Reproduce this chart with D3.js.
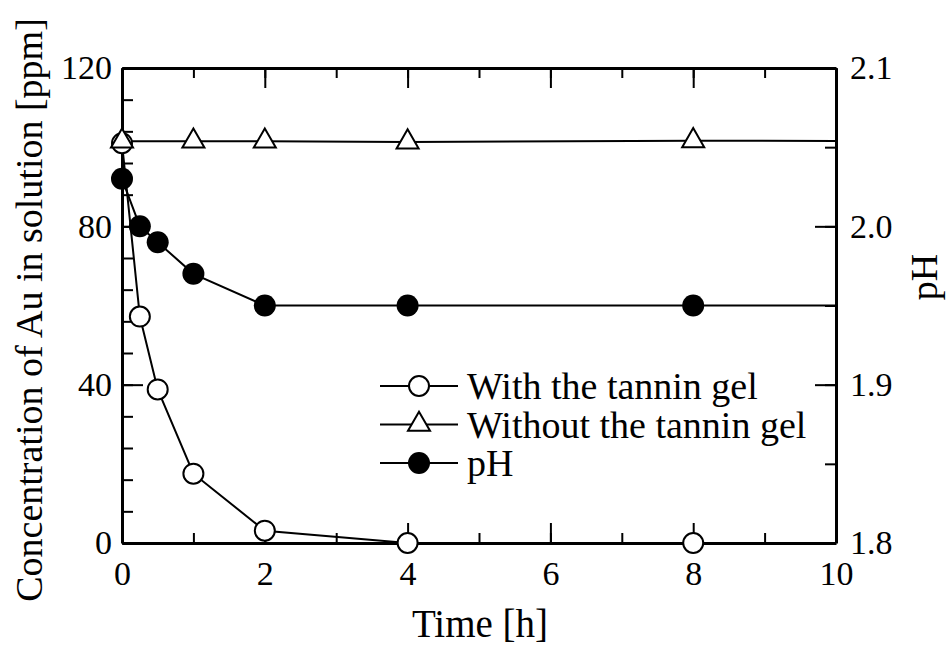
<!DOCTYPE html>
<html lang="en">
<head>
<meta charset="utf-8">
<script src="https://cdn.jsdelivr.net/npm/d3@7"></script>
<style>
  body { margin: 0; background: #fff; }
  text { font-family: "Liberation Serif", "Times New Roman", serif; fill: #000; }
  .axis .domain { stroke: #000; stroke-width: 3px; }
  .axis .tick line { stroke: #000; stroke-width: 2px; }
  .axis text { font-size: 34px; font-family: "Liberation Serif", serif; }
  .series { fill: none; stroke: #000; stroke-width: 2px; }
</style>
</head>
<body>
<div id="chart"></div>
<script>
// Au concentration (left axis, ppm) and pH (right axis) over time
// the 24 h readings sit past the axis end and only carry the lines to the frame
var timeWith = [0, 0.25, 0.5, 1, 2, 4, 8, 24];
var auWith = [101, 57.2, 38.8, 17.5, 3.1, 0, 0, 0];

var timeWithout = [0, 1, 2, 4, 8, 24];
var auWithout = [101.5, 101.5, 101.5, 101.3, 101.6, 101.5];

var timePH = [0, 0.25, 0.5, 1, 2, 4, 8, 24];
var phValues = [2.03, 2.00, 1.99, 1.97, 1.95, 1.95, 1.95, 1.95];

var xTicks = [0, 2, 4, 6, 8, 10];
var auTicks = [0, 40, 80, 120];
var phTicks = [1.8, 1.9, 2.0, 2.1];

var legendNames = ["With the tannin gel", "Without the tannin gel", "pH"];

var width = 949, height = 651;
var margin = {top: 68, right: 113, bottom: 108, left: 122};
var w = width - margin.left - margin.right,
    h = height - margin.top - margin.bottom;

var svg = d3.select("#chart").append("svg")
    .attr("width", width)
    .attr("height", height);

var g = svg.append("g")
    .attr("transform", "translate(" + margin.left + "," + margin.top + ")");

var x = d3.scaleLinear().domain([0, 10]).range([0, w]);
var yAu = d3.scaleLinear().domain([0, 120]).range([h, 0]);
var yPH = d3.scaleLinear().domain([1.8, 2.1]).range([h, 0]);

g.append("clipPath").attr("id", "plotClip")
  .append("rect").attr("width", w).attr("height", h);

// minor ticks first, then the labelled axes on top
function minor(axis, values, transform) {
  g.append("g").attr("class", "axis minor")
    .attr("transform", transform || null)
    .call(axis.tickValues(values).tickFormat("").tickSizeOuter(0))
    .select(".domain").remove();
}
minor(d3.axisBottom(x).tickSize(-10), d3.range(0, 11, 1), "translate(0," + h + ")");
minor(d3.axisTop(x).tickSize(-10), d3.range(0, 11, 1));
minor(d3.axisLeft(yAu).tickSize(-11), d3.range(0, 121, 8));
minor(d3.axisRight(yPH).tickSize(-11), d3.range(0, 7).map(function(i) { return 1.8 + i * 0.05; }), "translate(" + w + ",0)");

g.append("g").attr("class", "axis")
  .attr("transform", "translate(0," + h + ")")
  .call(d3.axisBottom(x).tickValues(xTicks).tickSize(-20).tickSizeOuter(0).tickPadding(18).tickFormat(d3.format("d")));

g.append("g").attr("class", "axis")
  .call(d3.axisTop(x).tickValues(xTicks).tickSize(-20).tickSizeOuter(0).tickFormat(""));

g.append("g").attr("class", "axis")
  .call(d3.axisLeft(yAu).tickValues(auTicks).tickSize(-21).tickSizeOuter(0).tickPadding(10).tickFormat(d3.format("d")));

g.append("g").attr("class", "axis")
  .attr("transform", "translate(" + w + ",0)")
  .call(d3.axisRight(yPH).tickValues(phTicks).tickSize(-21).tickSizeOuter(0).tickPadding(14).tickFormat(d3.format(".1f")));

// axis titles
svg.append("text")
  .attr("x", 480).attr("y", 637)
  .attr("text-anchor", "middle").style("font-size", "39px")
  .text("Time [h]");

svg.append("text")
  .attr("transform", "translate(42,310) rotate(-90)")
  .attr("text-anchor", "middle").style("font-size", "38px")
  .text("Concentration of Au in solution [ppm]");

svg.append("text")
  .attr("transform", "translate(937,277) rotate(-90)")
  .attr("text-anchor", "middle").style("font-size", "38px")
  .text("pH");

// series
var withData = timeWith.map(function(t, i) { return {t: t, v: auWith[i]}; });
var withoutData = timeWithout.map(function(t, i) { return {t: t, v: auWithout[i]}; });
var phData = timePH.map(function(t, i) { return {t: t, v: phValues[i]}; });

var lineAu = d3.line().x(function(d) { return x(d.t); }).y(function(d) { return yAu(d.v); });
var linePH = d3.line().x(function(d) { return x(d.t); }).y(function(d) { return yPH(d.v); });

var lines = g.append("g").attr("clip-path", "url(#plotClip)");
lines.append("path").datum(withData).attr("class", "series").attr("d", lineAu);
lines.append("path").datum(withoutData).attr("class", "series").attr("d", lineAu);
lines.append("path").datum(phData).attr("class", "series").attr("d", linePH);

var tri = d3.symbol().type(d3.symbolTriangle).size(210);
function inView(d) { return d.t <= 10; }

g.selectAll(".mk-with").data(withData.filter(inView)).enter()
  .append("circle")
    .attr("cx", function(d) { return x(d.t); })
    .attr("cy", function(d) { return yAu(d.v); })
    .attr("r", 10)
    .attr("fill", "#fff").attr("stroke", "#000").attr("stroke-width", 2);

g.selectAll(".mk-without").data(withoutData.filter(inView)).enter()
  .append("path")
    .attr("d", tri)
    .attr("transform", function(d) { return "translate(" + x(d.t) + "," + yAu(d.v) + ")"; })
    .attr("fill", "#fff").attr("stroke", "#000").attr("stroke-width", 2);

g.selectAll(".mk-ph").data(phData.filter(inView)).enter()
  .append("circle")
    .attr("cx", function(d) { return x(d.t); })
    .attr("cy", function(d) { return yPH(d.v); })
    .attr("r", 11)
    .attr("fill", "#000");

// legend
var legend = svg.append("g").attr("transform", "translate(380,386)");
legendNames.forEach(function(name, i) {
  var row = legend.append("g").attr("transform", "translate(0," + (i * 38.5) + ")");
  row.append("line").attr("x1", 0).attr("x2", 78).attr("y1", 0).attr("y2", 0)
    .attr("stroke", "#000").attr("stroke-width", 2);
  if (i === 0) {
    row.append("circle").attr("cx", 39).attr("r", 10)
      .attr("fill", "#fff").attr("stroke", "#000").attr("stroke-width", 2);
  } else if (i === 1) {
    row.append("path").attr("d", tri).attr("transform", "translate(39,0)")
      .attr("fill", "#fff").attr("stroke", "#000").attr("stroke-width", 2);
  } else {
    row.append("circle").attr("cx", 39).attr("r", 11).attr("fill", "#000");
  }
  row.append("text").attr("x", 87).attr("dy", "0.35em")
    .style("font-size", "38px").text(name);
});
</script>
</body>
</html>
